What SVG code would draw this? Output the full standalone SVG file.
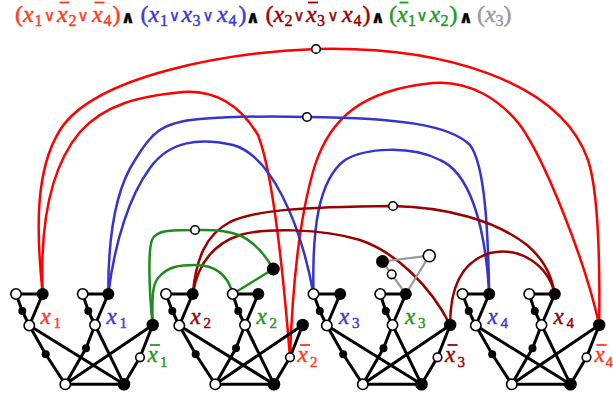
<svg xmlns="http://www.w3.org/2000/svg" xmlns:xlink="http://www.w3.org/1999/xlink" width="613" height="397" viewBox="0 0 613 397">
<style>
.f{font-family:"Liberation Serif","Times New Roman",serif;font-size:24px}
.f text,.lab{fill:currentColor;stroke:currentColor;stroke-width:0.45}
.i{font-style:italic}
.s{font-size:16px;font-style:normal}
.op{font-family:"DejaVu Sans",sans-serif;font-size:15px;text-anchor:middle}
.and{font-family:"DejaVu Sans",sans-serif;font-size:17px;font-weight:bold;text-anchor:middle}
.lab{font-family:"Liberation Serif","Times New Roman",serif;font-size:23px;font-style:italic}
.ls{font-size:15px;font-style:normal}
.e{fill:none;stroke:#000;stroke-width:3;stroke-linejoin:round;stroke-linecap:round}
.w{fill:#fff;stroke:#000;stroke-width:1.6}
.b{fill:#000}
.c{fill:none;stroke-width:2.5;stroke-linecap:round}
.red{stroke:#ff0000}.blue{stroke:#3535cc}.dred{stroke:#990000}.green{stroke:#1e8c1e}.gray{stroke:#999;stroke-width:2.2}
.bar{stroke-width:1.8}
</style>
<defs>
<g id="gadgetBody">
<path class="e" d="M16,294H42.7M16,294L22.3,311L29.3,325.5M42.7,294L29.3,325.5M82.7,294H108.3M82.7,294L88.3,311L95,325M108.3,294L95,325M29.3,325.5L45.7,354.3L65.3,384.3M29.3,325.5L124,384.3M95,325L86,348.3L65.3,384.3M95,325L124,384.3M65.3,384.3H124M65.3,384.3L152.7,325M152.7,325L140,357.3L124,384.3"/>
<circle class="w" cx="16" cy="294" r="5.2"/>
<circle class="b" cx="42.7" cy="294" r="6"/>
<circle class="w" cx="29.3" cy="325.5" r="5.2"/>
<circle class="w" cx="82.7" cy="294" r="5.2"/>
<circle class="b" cx="108.3" cy="294" r="6"/>
<circle class="w" cx="95" cy="325" r="5.2"/>
<circle class="w" cx="65.3" cy="384.3" r="5.2"/>
<circle class="b" cx="124" cy="384.3" r="6.3"/>
<circle class="b" cx="152.7" cy="325" r="6.2"/>
<circle class="w" cx="140" cy="357.3" r="4.3"/>
<circle class="b" cx="22.3" cy="311" r="4"/>
<circle class="b" cx="88.3" cy="311" r="4"/>
<circle class="b" cx="45.7" cy="354.3" r="4"/>
<circle class="b" cx="86" cy="348.3" r="4"/>
</g>
</defs>
<rect width="613" height="397" fill="#fff"/>

<g id="formula" class="f">
<text color="#ff3a1a"><tspan x="15" y="22">(</tspan><tspan class="i" x="23" y="22">x</tspan><tspan class="s" x="34.5" y="26">1</tspan><tspan class="op" x="49.5" y="21">∨</tspan><tspan class="i" x="57" y="22">x</tspan><tspan class="s" x="68.5" y="26">2</tspan><tspan class="op" x="83" y="21">∨</tspan><tspan class="i" x="92" y="22">x</tspan><tspan class="s" x="103.5" y="26">4</tspan><tspan x="112.5" y="22">)</tspan></text>
<text class="and" color="#000" x="128" y="23">∧</text>
<text color="#3b3bd6"><tspan x="140.5" y="22">(</tspan><tspan class="i" x="148.5" y="22">x</tspan><tspan class="s" x="160" y="26">1</tspan><tspan class="op" x="174.5" y="21">∨</tspan><tspan class="i" x="181.5" y="22">x</tspan><tspan class="s" x="192.5" y="26">3</tspan><tspan class="op" x="208" y="21">∨</tspan><tspan class="i" x="217" y="22">x</tspan><tspan class="s" x="228.5" y="26">4</tspan><tspan x="238.5" y="22">)</tspan></text>
<text class="and" color="#000" x="253" y="23">∧</text>
<text color="#990000"><tspan x="265.5" y="22">(</tspan><tspan class="i" x="273.5" y="22">x</tspan><tspan class="s" x="284.5" y="26">2</tspan><tspan class="op" x="299" y="21">∨</tspan><tspan class="i" x="306" y="22">x</tspan><tspan class="s" x="317" y="26">3</tspan><tspan class="op" x="333" y="21">∨</tspan><tspan class="i" x="342" y="22">x</tspan><tspan class="s" x="353.5" y="26">4</tspan><tspan x="362.5" y="22">)</tspan></text>
<text class="and" color="#000" x="378" y="23">∧</text>
<text color="#229922"><tspan x="389" y="22">(</tspan><tspan class="i" x="397" y="22">x</tspan><tspan class="s" x="408" y="26">1</tspan><tspan class="op" x="422" y="21">∨</tspan><tspan class="i" x="429.5" y="22">x</tspan><tspan class="s" x="440.5" y="26">2</tspan><tspan x="449.5" y="22">)</tspan></text>
<text class="and" color="#000" x="466" y="23">∧</text>
<text color="#999999"><tspan x="477" y="22">(</tspan><tspan class="i" x="485" y="22">x</tspan><tspan class="s" x="495.5" y="26">3</tspan><tspan x="503.5" y="22">)</tspan></text>
<line class="bar" x1="59.5" y1="2.5" x2="69.5" y2="2.5" stroke="#ff3a1a"/>
<line class="bar" x1="94.5" y1="2.5" x2="104.5" y2="2.5" stroke="#ff3a1a"/>
<line class="bar" x1="308" y1="2.5" x2="318" y2="2.5" stroke="#990000"/>
<line class="bar" x1="399.5" y1="2.5" x2="408.5" y2="2.5" stroke="#229922"/>
</g>

<g id="connectors">
<path class="c red" d="M42.7,294 C36,230 35,170 60,130 C95,75 230,52 316,49 C440,46 560,80 588,160 C598,190 600,260 599.2,325"/>
<path class="c red" d="M42.7,294 C40,230 48,170 80,132 C105,104 140,96 183,92 C215,90 240,105 258,135 C272,170 283,270 290,357.3"/>
<path class="c red" d="M290,357.3 C292,300 298,220 315,165 C330,120 360,90 433,83 C470,80 500,100 520,125 C545,160 585,260 599.2,325"/>
<path class="c blue" d="M108.3,294 C108,240 115,190 135,160 C150,135 160,122 200,119 C240,116 270,116 307,117 C400,118 450,125 470,145 C485,165 488,230 489.2,294"/>
<path class="c blue" d="M108.3,294 C115,240 130,195 150,168 C170,140 200,138 233,145 C270,155 300,220 313.5,294"/>
<path class="c blue" d="M313.5,294 C312,230 318,180 345,160 C365,148 410,145 440,160 C468,172 485,220 489.2,294"/>
<path class="c dred" d="M192.7,294 C196,260 205,235 230,222 C255,210 300,207 393,206 C445,207 495,220 527,245 C542,258 551,272 554.8,294"/>
<path class="c dred" d="M192.7,294 C197,268 210,245 240,235 C265,228 320,228 360,240 C395,252 430,285 450.2,325"/>
<path class="c dred" d="M450.2,325 C450,290 460,262 490,253 C520,246 548,265 554.8,294"/>
<path class="c green" d="M152.7,325 C149,290 148,250 152,240 C156,230 170,230 195,230 C230,229 252,232 273.3,269"/>
<path class="c green" d="M152.7,325 C152,300 152,285 158,278 C168,266 180,265 195,265 C215,265 228,275 232.7,294"/>
<path class="c green" d="M273.3,269 L232.7,294"/>
<path class="c gray" d="M382.5,261.5 L429.3,255.7 L405.8,294 M382.5,261.5 L391.7,274.3 L405.8,294"/>
</g>

<g id="clause1"><circle class="w" cx="316" cy="49" r="4.3"/></g>
<g id="clause2"><circle class="w" cx="307" cy="117" r="4.3"/></g>
<g id="clause3"><circle class="w" cx="393" cy="206" r="4.3"/></g>
<g id="clause4"><circle class="w" cx="195" cy="230" r="4.3"/><circle class="b" cx="273.3" cy="269" r="6.5"/></g>
<g id="clause5"><circle class="b" cx="382.5" cy="261.5" r="6.5"/><circle class="w" cx="429.3" cy="255.7" r="6"/><circle class="w" cx="391.7" cy="274.3" r="4.3"/></g>

<g id="gadget1" transform="translate(0,0)">
<use xlink:href="#gadgetBody"/>
<text class="lab" color="#ff3a1a" x="40.5" y="324">x<tspan class="ls" x="53.5" y="327.5">1</tspan></text>
<text class="lab" color="#3b3bd6" x="106.5" y="324">x<tspan class="ls" x="119.5" y="327.5">1</tspan></text>
<text class="lab" color="#229922" x="147.5" y="362">x<tspan class="ls" x="160" y="366.5">1</tspan></text>
<line class="bar" x1="150" y1="345" x2="160" y2="345" stroke="#229922"/>
</g>
<g id="gadget2" transform="translate(150,0)">
<use xlink:href="#gadgetBody"/>
<text class="lab" color="#990000" x="40.5" y="324">x<tspan class="ls" x="53.5" y="327.5">2</tspan></text>
<text class="lab" color="#229922" x="106.5" y="324">x<tspan class="ls" x="119.5" y="327.5">2</tspan></text>
<text class="lab" color="#ff3a1a" x="147.5" y="362">x<tspan class="ls" x="160" y="366.5">2</tspan></text>
<line class="bar" x1="150" y1="345" x2="160" y2="345" stroke="#ff3a1a"/>
</g>
<g id="gadget3" transform="translate(297.5,0)">
<use xlink:href="#gadgetBody"/>
<text class="lab" color="#3b3bd6" x="41.5" y="324">x<tspan class="ls" x="54.5" y="327.5">3</tspan></text>
<text class="lab" color="#229922" x="107.5" y="324">x<tspan class="ls" x="120.5" y="327.5">3</tspan></text>
<text class="lab" color="#990000" x="147.5" y="362">x<tspan class="ls" x="160" y="366.5">3</tspan></text>
<line class="bar" x1="150" y1="345" x2="160" y2="345" stroke="#990000"/>
</g>
<g id="gadget4" transform="translate(446.5,0)">
<use xlink:href="#gadgetBody"/>
<text class="lab" color="#3b3bd6" x="41" y="324">x<tspan class="ls" x="54" y="327.5">4</tspan></text>
<text class="lab" color="#990000" x="107" y="324">x<tspan class="ls" x="120" y="327.5">4</tspan></text>
<text class="lab" color="#ff3a1a" x="148" y="362">x<tspan class="ls" x="159" y="366.5">4</tspan></text>
<line class="bar" x1="150" y1="345" x2="160" y2="345" stroke="#ff3a1a"/>
</g>
</svg>
